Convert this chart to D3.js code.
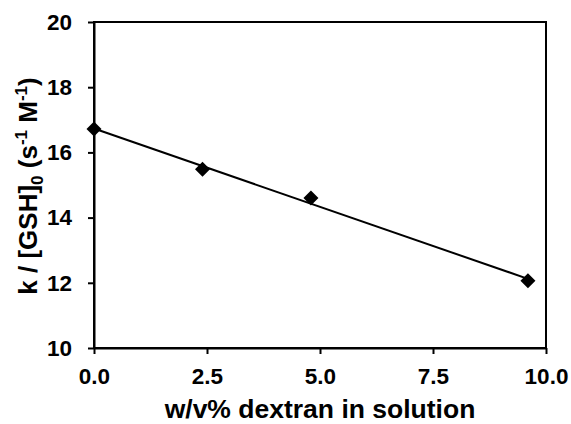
<!DOCTYPE html>
<html><head><meta charset="utf-8">
<script src="https://cdn.jsdelivr.net/npm/d3@7"></script>
<style>body{margin:0;background:#fff}svg{display:block}text{font-family:"Liberation Sans",Arial,sans-serif;font-weight:bold;fill:#000}</style>
</head><body><svg id="c" width="571" height="424"></svg>
<script>
const dextran = [0, 2.4, 4.8, 9.6];
const rate = [16.72, 15.48, 14.6, 12.06];
const xTicks = [0, 2.5, 5, 7.5, 10];
const yTicks = [10, 12, 14, 16, 18, 20];

const svg = d3.select("#c");
const m = {l:94, r:546, t:22, b:348};
const x = d3.scaleLinear().domain([0,10]).range([m.l, m.r]);
const y = d3.scaleLinear().domain([10,20]).range([m.b, m.t]);

// frame
svg.append("rect").attr("x", m.l).attr("y", m.t).attr("width", m.r-m.l).attr("height", m.b-m.t)
  .attr("fill","none").attr("stroke","#000").attr("stroke-width",2);

const xa = svg.append("g").attr("transform",`translate(0,${m.b})`)
  .call(d3.axisBottom(x).tickValues(xTicks).tickFormat(d3.format(".1f")).tickSize(6).tickSizeOuter(0).tickPadding(14));
const ya = svg.append("g").attr("transform",`translate(${m.l},0)`)
  .call(d3.axisLeft(y).tickValues(yTicks).tickFormat(d3.format("d")).tickSize(6).tickSizeOuter(0).tickPadding(16));
[xa, ya].forEach(a => {
  a.select(".domain").attr("stroke","#000").attr("stroke-width",2);
  a.selectAll(".tick line").attr("stroke","#000").attr("stroke-width",2);
  a.selectAll(".tick text").style("font-size","22.5px").attr("font-family",null).attr("fill","#000");
});

// linear least-squares trend line
const mx = d3.mean(dextran), my = d3.mean(rate);
const sxy = d3.sum(dextran, (d,i) => (d-mx)*(rate[i]-my));
const sxx = d3.sum(dextran, d => (d-mx)*(d-mx));
const slope = sxy/sxx, icpt = my - slope*mx;
const xs = [d3.min(dextran), d3.max(dextran)];
svg.append("line")
  .attr("x1", x(xs[0])).attr("y1", y(icpt + slope*xs[0]))
  .attr("x2", x(xs[1])).attr("y2", y(icpt + slope*xs[1]))
  .attr("stroke","#000").attr("stroke-width",2);

svg.append("g").selectAll("path").data(dextran).join("path")
  .attr("d", "M0,-7.5L7.5,0L0,7.5L-7.5,0Z")
  .attr("transform", (d,i) => `translate(${x(d)},${y(rate[i])})`)
  .attr("fill","#000");

svg.append("text").attr("x", 320).attr("y", 418).attr("text-anchor","middle")
  .style("font-size","26.5px").text("w/v% dextran in solution");

const yt = svg.append("text").attr("transform","translate(37,186) rotate(-90)").attr("text-anchor","middle")
  .style("font-size","26px");
yt.append("tspan").text("k / [GSH]");
yt.append("tspan").attr("dy",6).style("font-size","17px").text("0");
yt.append("tspan").attr("dy",-6).text(" (s");
yt.append("tspan").attr("dy",-10).style("font-size","17px").text("-1");
yt.append("tspan").attr("dy",10).text(" M");
yt.append("tspan").attr("dy",-10).style("font-size","17px").text("-1");
yt.append("tspan").attr("dy",10).text(")");
</script></body></html>
